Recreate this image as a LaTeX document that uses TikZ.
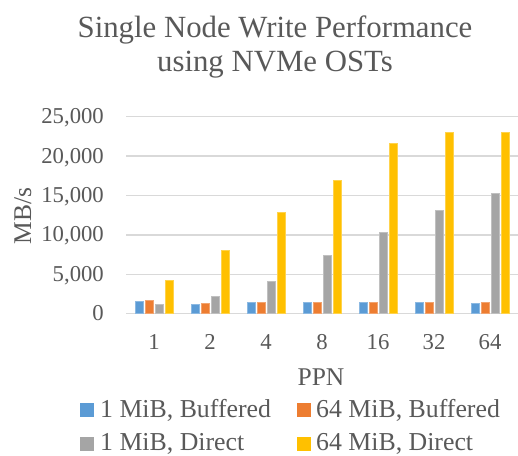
\documentclass[tikz,border=0pt]{standalone}
\usepackage{fontspec}
\setmainfont{Liberation Serif}
\definecolor{txt}{HTML}{595959}
\definecolor{grid}{HTML}{D9D9D9}
\definecolor{sblue}{HTML}{5B9BD5}
\definecolor{sorange}{HTML}{ED7D31}
\definecolor{sgray}{HTML}{A5A5A5}
\definecolor{sgold}{HTML}{FFC000}
\begin{document}
\begin{tikzpicture}[x=1pt,y=-1pt,
  titletxt/.style={text=txt,inner sep=0,font=\fontsize{30.8}{35}\selectfont},
  ticktxt/.style={text=txt,inner sep=0,font=\fontsize{22.7}{26}\selectfont},
  axtxt/.style={text=txt,inner sep=0,font=\fontsize{25.5}{29}\selectfont},
  legtxt/.style={text=txt,inner sep=0,font=\fontsize{25.8}{29}\selectfont,anchor=base west},
  gridline/.style={draw=grid,line width=1.3pt},
  barb/.style={fill=sblue,draw=sblue!70!white,line width=0.5pt},
  baro/.style={fill=sorange,draw=sorange!70!white,line width=0.5pt},
  barg/.style={fill=sgray,draw=sgray!70!white,line width=0.5pt},
  bary/.style={fill=sgold,draw=sgold!70!white,line width=0.5pt}]
\useasboundingbox (0,0) rectangle (518,455);
\fill[white] (0,0) rectangle (518,455);
% title
\node[titletxt,anchor=base] (t1) at (275,37.3) {Single Node Write Performance};
\node[titletxt,anchor=base] (t2) at (275,71.7) {using NVMe OSTs};
% gridlines
\foreach \v in {0,5,10,15,20,25} {
  \draw[gridline] (126,313.7-\v*7.88) -- (518,313.7-\v*7.88);
}
% y tick labels
\node[ticktxt,anchor=base east] (y0) at (104,320.7) {0};
\node[ticktxt,anchor=base east] (y5) at (104,281.3) {5,000};
\node[ticktxt,anchor=base east] (y10) at (104,241.9) {10,000};
\node[ticktxt,anchor=base east] (y15) at (104,202.5) {15,000};
\node[ticktxt,anchor=base east] (y20) at (104,163.1) {20,000};
\node[ticktxt,anchor=base east] (y25) at (104,123.7) {25,000};
% y axis title
\node[axtxt,rotate=90,anchor=base] (ytitle) at (31,216) {MB/s};
% bars
\foreach \b/\o/\g/\yy/\lab [count=\i from 0] in {1.61/1.69/1.14/4.27/1, 1.23/1.35/2.16/8.08/2, 1.40/1.40/4.15/12.86/4, 1.40/1.40/7.36/16.92/8, 1.48/1.40/10.28/21.57/16, 1.48/1.40/13.07/23.0/32, 1.35/1.40/15.27/23.0/64} {
  \pgfmathsetmacro\c{154+56*\i}
  \filldraw[barb] (\c-19,313.7) rectangle (\c-11,313.7-\b*7.88);
  \filldraw[baro] (\c-9,313.7) rectangle (\c-1,313.7-\o*7.88);
  \filldraw[barg] (\c+1,313.7) rectangle (\c+9,313.7-\g*7.88);
  \filldraw[bary] (\c+11,313.7) rectangle (\c+19,313.7-\yy*7.88);
  \node[ticktxt,anchor=base] (x\i) at (\c,349) {\lab};
}
% x axis title
\node[axtxt,anchor=base] (xtitle) at (321,385) {PPN};
% legend
\fill[sblue] (80,403.3) rectangle (94.3,417.3);
\node[legtxt] (l1) at (100,417.3) {1 MiB, Buffered};
\fill[sorange] (296.7,403.3) rectangle (311,417.3);
\node[legtxt] (l2) at (316,417.3) {64 MiB, Buffered};
\fill[sgray] (80,436.7) rectangle (94.3,450.7);
\node[legtxt] (l3) at (100,450.7) {1 MiB, Direct};
\fill[sgold] (296.7,436.7) rectangle (311,450.7);
\node[legtxt] (l4) at (316,450.7) {64 MiB, Direct};
\end{tikzpicture}
\end{document}
